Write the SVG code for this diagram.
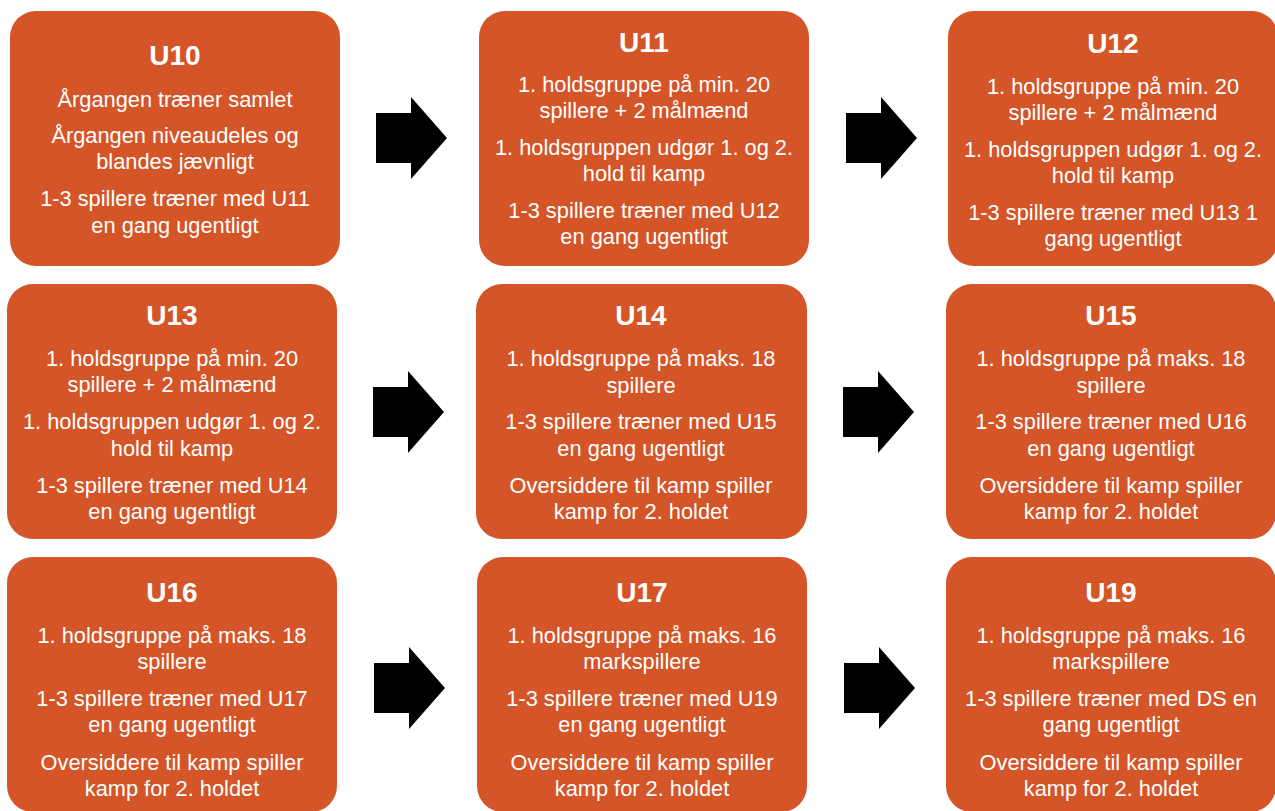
<svg xmlns="http://www.w3.org/2000/svg" width="1275" height="811" viewBox="0 0 1275 811">
<style>
.box{fill:#D35528}
.t{font-family:"Liberation Sans",Arial,sans-serif;fill:#fff;text-anchor:middle}
.h{font-size:28px;font-weight:bold}
.b{font-size:21.8px}
.arr{fill:#000}
</style>
<defs>
<path id="arrow" d="M0,16 H35 V0 L71,41 L35,82 V66 H0 Z"/>
</defs>
<rect width="1275" height="811" fill="#fff"/>
<g id="connectors" class="arr">
<use href="#arrow" x="376" y="97"/>
<use href="#arrow" x="846" y="97"/>
<use href="#arrow" x="373" y="371"/>
<use href="#arrow" x="843" y="371"/>
<use href="#arrow" x="374" y="647"/>
<use href="#arrow" x="844" y="647"/>
</g>
<g id="U10">
<rect class="box" x="10" y="11" width="330" height="255" rx="26"/>
<text class="t h" x="175" y="65">U10</text>
<text class="t b" x="175" y="107">Årgangen træner samlet</text>
<text class="t b" x="175" y="143">Årgangen niveaudeles og</text>
<text class="t b" x="175" y="169">blandes jævnligt</text>
<text class="t b" x="175" y="206">1-3 spillere træner med U11</text>
<text class="t b" x="175" y="233">en gang ugentligt</text>
</g>
<g id="U11">
<rect class="box" x="479" y="11" width="330" height="255" rx="26"/>
<text class="t h" x="644" y="52">U11</text>
<text class="t b" x="644" y="92">1. holdsgruppe på min. 20</text>
<text class="t b" x="644" y="118">spillere + 2 målmænd</text>
<text class="t b" x="644" y="155">1. holdsgruppen udgør 1. og 2.</text>
<text class="t b" x="644" y="181">hold til kamp</text>
<text class="t b" x="644" y="218">1-3 spillere træner med U12</text>
<text class="t b" x="644" y="244">en gang ugentligt</text>
</g>
<g id="U12">
<rect class="box" x="948" y="11" width="330" height="255" rx="26"/>
<text class="t h" x="1113" y="53">U12</text>
<text class="t b" x="1113" y="94">1. holdsgruppe på min. 20</text>
<text class="t b" x="1113" y="120">spillere + 2 målmænd</text>
<text class="t b" x="1113" y="157">1. holdsgruppen udgør 1. og 2.</text>
<text class="t b" x="1113" y="183">hold til kamp</text>
<text class="t b" x="1113" y="220">1-3 spillere træner med U13 1</text>
<text class="t b" x="1113" y="246">gang ugentligt</text>
</g>
<g id="U13">
<rect class="box" x="7" y="284" width="330" height="255" rx="26"/>
<text class="t h" x="172" y="325">U13</text>
<text class="t b" x="172" y="366">1. holdsgruppe på min. 20</text>
<text class="t b" x="172" y="392">spillere + 2 målmænd</text>
<text class="t b" x="172" y="429">1. holdsgruppen udgør 1. og 2.</text>
<text class="t b" x="172" y="456">hold til kamp</text>
<text class="t b" x="172" y="493">1-3 spillere træner med U14</text>
<text class="t b" x="172" y="519">en gang ugentligt</text>
</g>
<g id="U14">
<rect class="box" x="476" y="284" width="331" height="255" rx="26"/>
<text class="t h" x="641" y="325">U14</text>
<text class="t b" x="641" y="366">1. holdsgruppe på maks. 18</text>
<text class="t b" x="641" y="393">spillere</text>
<text class="t b" x="641" y="429">1-3 spillere træner med U15</text>
<text class="t b" x="641" y="456">en gang ugentligt</text>
<text class="t b" x="641" y="493">Oversiddere til kamp spiller</text>
<text class="t b" x="641" y="519">kamp for 2. holdet</text>
</g>
<g id="U15">
<rect class="box" x="946" y="284" width="330" height="255" rx="26"/>
<text class="t h" x="1111" y="325">U15</text>
<text class="t b" x="1111" y="366">1. holdsgruppe på maks. 18</text>
<text class="t b" x="1111" y="393">spillere</text>
<text class="t b" x="1111" y="429">1-3 spillere træner med U16</text>
<text class="t b" x="1111" y="456">en gang ugentligt</text>
<text class="t b" x="1111" y="493">Oversiddere til kamp spiller</text>
<text class="t b" x="1111" y="519">kamp for 2. holdet</text>
</g>
<g id="U16">
<rect class="box" x="7" y="557" width="330" height="255" rx="26"/>
<text class="t h" x="172" y="602">U16</text>
<text class="t b" x="172" y="643">1. holdsgruppe på maks. 18</text>
<text class="t b" x="172" y="669">spillere</text>
<text class="t b" x="172" y="706">1-3 spillere træner med U17</text>
<text class="t b" x="172" y="732">en gang ugentligt</text>
<text class="t b" x="172" y="770">Oversiddere til kamp spiller</text>
<text class="t b" x="172" y="796">kamp for 2. holdet</text>
</g>
<g id="U17">
<rect class="box" x="477" y="557" width="330" height="255" rx="26"/>
<text class="t h" x="642" y="602">U17</text>
<text class="t b" x="642" y="643">1. holdsgruppe på maks. 16</text>
<text class="t b" x="642" y="669">markspillere</text>
<text class="t b" x="642" y="706">1-3 spillere træner med U19</text>
<text class="t b" x="642" y="732">en gang ugentligt</text>
<text class="t b" x="642" y="770">Oversiddere til kamp spiller</text>
<text class="t b" x="642" y="796">kamp for 2. holdet</text>
</g>
<g id="U19">
<rect class="box" x="946" y="557" width="330" height="255" rx="26"/>
<text class="t h" x="1111" y="602">U19</text>
<text class="t b" x="1111" y="643">1. holdsgruppe på maks. 16</text>
<text class="t b" x="1111" y="669">markspillere</text>
<text class="t b" x="1111" y="706">1-3 spillere træner med DS en</text>
<text class="t b" x="1111" y="732">gang ugentligt</text>
<text class="t b" x="1111" y="770">Oversiddere til kamp spiller</text>
<text class="t b" x="1111" y="796">kamp for 2. holdet</text>
</g>
</svg>
